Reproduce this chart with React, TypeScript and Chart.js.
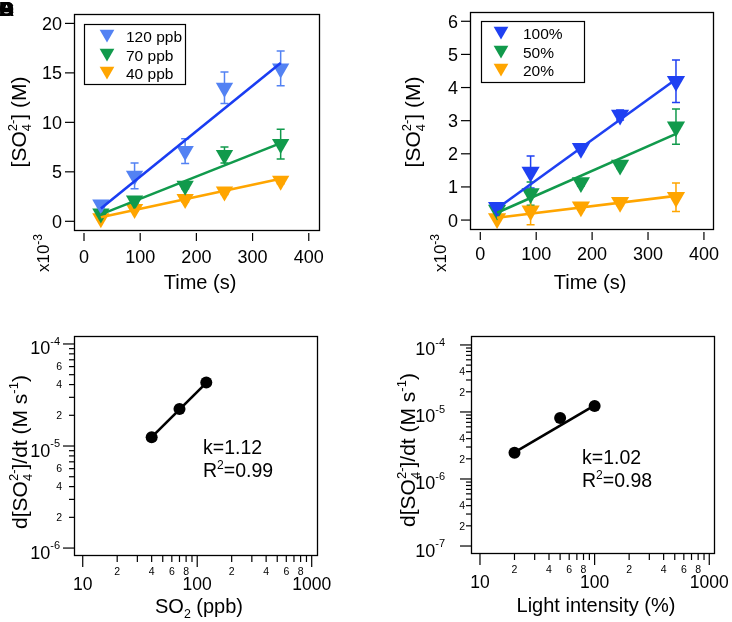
import { useEffect, useRef } from 'react';
import { Chart, registerables } from 'chart.js';
Chart.register(...registerables);

const FONT = '"Liberation Sans", Arial, Helvetica, sans-serif';

// ---------- Panel A: [SO4 2-] vs time at several SO2 levels (x10^-3 M) ----------
const timeS = [30, 90, 180, 250, 350];
const so2Labels = ['120 ppb', '70 ppb', '40 ppb'];
const so2_120 = [1.7, 4.6, 7.1, 13.5, 15.45];
const so2_120Err = [0.3, 1.3, 1.25, 1.6, 1.75];
const so2_70 = [0.8, 2.1, 3.6, 6.7, 7.8];
const so2_70Err = [0.3, 0.3, 0.3, 0.8, 1.5];
const so2_40 = [0.3, 1.25, 2.25, 3.0, 4.1];
const so2_40Err = [0.2, 0.2, 0.3, 0.3, 0.3];
const fitTime = [30, 350];
const so2_120Fit = [1.3, 16.0];
const so2_70Fit = [0.7, 7.9];
const so2_40Fit = [0.4, 4.3];
const timeTicks = [0, 100, 200, 300, 400];
const aYTicks = [0, 5, 10, 15, 20];

// ---------- Panel B: [SO4 2-] vs time at several light intensities (x10^-3 M) ----------
const lightLabels = ['100%', '50%', '20%'];
const light100 = [0.39, 1.45, 2.17, 3.17, 4.19];
const light100Err = [0.1, 0.48, 0.1, 0.15, 0.64];
const light50 = [0.3, 0.8, 1.13, 1.66, 2.82];
const light50Err = [0.1, 0.35, 0.1, 0.1, 0.53];
const light20 = [0.05, 0.28, 0.4, 0.54, 0.685];
const light20Err = [0.05, 0.42, 0.1, 0.1, 0.43];
const light100Fit = [0.35, 4.25];
const light50Fit = [0.22, 2.6];
const light20Fit = [0.07, 0.73];
const bYTicks = [0, 1, 2, 3, 4, 5, 6];

// ---------- Panel C: rate vs SO2 ----------
const so2Conc = [40, 70, 120];
const so2Rate = [1.22e-5, 2.3e-5, 4.2e-5];
const so2FitX = [40, 120];
const so2FitY = [1.22e-5, 4.15e-5];
const so2K = 'k=1.12';
const so2R2 = '=0.99';

// ---------- Panel D: rate vs light intensity ----------
const lightInt = [20, 50, 100];
const lightRate = [2.46e-6, 8.1e-6, 1.23e-5];
const lightFitX = [20, 100];
const lightFitY = [2.5e-6, 1.25e-5];
const lightK = 'k=1.02';
const lightR2 = '=0.98';

const logXMajors = [10, 100, 1000];
const logMinorMults = [2, 3, 4, 5, 6, 7, 8, 9];
const logXMinorLabels = [2, 4, 6, 8];
const cYExps = [-6, -5, -4];
const cYMinorLabels = [2, 4, 6];
const dYExps = [-7, -6, -5, -4];
const dYMinorLabels = [2, 4];

// colours
const A_BLUE = '#5382f3';
const A_BLUE_LINE = '#1a3df2';
const GREEN = '#119a4c';
const ORANGE = '#ffa500';
const B_BLUE = '#1f40f2';

const fnt = (s: number, bold = false) => `${bold ? 'bold ' : ''}${s}px ${FONT}`;

type Seg = { t?: string; sup?: string; sub?: string };

function drawRich(ctx: CanvasRenderingContext2D, segs: Seg[], cx: number, cy: number, size: number,
  opts: { rot?: number; align?: 'left' | 'center' | 'right'; small?: number } = {}) {
  const small = opts.small ?? size * 0.62;
  ctx.save();
  ctx.translate(cx, cy);
  if (opts.rot) ctx.rotate(opts.rot);
  ctx.textAlign = 'left';
  ctx.textBaseline = 'alphabetic';
  ctx.fillStyle = '#000';
  const widths = segs.map((s) => {
    if (s.t !== undefined) { ctx.font = fnt(size); return ctx.measureText(s.t).width; }
    ctx.font = fnt(small);
    return Math.max(s.sup ? ctx.measureText(s.sup).width : 0, s.sub ? ctx.measureText(s.sub).width : 0);
  });
  const total = widths.reduce((a, b) => a + b, 0);
  let x = opts.align === 'left' ? 0 : opts.align === 'right' ? -total : -total / 2;
  const base = size * 0.36;
  segs.forEach((s, i) => {
    if (s.t !== undefined) { ctx.font = fnt(size); ctx.fillText(s.t, x, base); }
    else {
      ctx.font = fnt(small);
      if (s.sup) ctx.fillText(s.sup, x, base - size * 0.42);
      if (s.sub) ctx.fillText(s.sub, x, base + size * 0.24);
    }
    x += widths[i];
  });
  ctx.restore();
}

function text(ctx: CanvasRenderingContext2D, s: string, x: number, cy: number, size: number, align: CanvasTextAlign) {
  ctx.font = fnt(size);
  ctx.textAlign = align;
  ctx.textBaseline = 'alphabetic';
  ctx.fillStyle = '#000';
  ctx.fillText(s, x, cy + size * 0.36);
}

function line(ctx: CanvasRenderingContext2D, x1: number, y1: number, x2: number, y2: number, w = 1.2) {
  ctx.lineWidth = w;
  ctx.strokeStyle = '#000';
  ctx.beginPath();
  ctx.moveTo(x1, y1);
  ctx.lineTo(x2, y2);
  ctx.stroke();
}

function frame(chart: any) {
  const { ctx, chartArea: a } = chart;
  ctx.save();
  ctx.lineWidth = 1.3;
  ctx.strokeStyle = '#000';
  ctx.strokeRect(a.left + 0.5, a.top + 0.5, a.right - a.left - 1, a.bottom - a.top - 1);
  ctx.restore();
}

function tri(ctx: CanvasRenderingContext2D, x: number, y: number, r: number, color: string) {
  const cy = y - r / 4;
  ctx.beginPath();
  ctx.moveTo(x, cy + r);
  ctx.lineTo(x - r * 0.866, cy - r / 2);
  ctx.lineTo(x + r * 0.866, cy - r / 2);
  ctx.closePath();
  ctx.fillStyle = color;
  ctx.fill();
}

function legend(ctx: CanvasRenderingContext2D, box: number[], rows: number[], mx: number, tx: number, r: number,
  labels: string[], colors: string[]) {
  ctx.save();
  ctx.lineWidth = 1.2;
  ctx.strokeStyle = '#000';
  ctx.strokeRect(box[0] + 0.5, box[1] + 0.5, box[2], box[3]);
  labels.forEach((l, i) => {
    tri(ctx, mx, rows[i], r, colors[i]);
    text(ctx, l, tx, rows[i], 15.5, 'left');
  });
  ctx.restore();
}

type Err = { x: number[]; y: number[]; e: number[]; color: string };
function errPlugin(errs: Err[]) {
  return {
    id: 'errbars',
    beforeDatasetsDraw(chart: any) {
      const { ctx, scales, chartArea: a } = chart;
      ctx.save();
      ctx.beginPath();
      ctx.rect(a.left, a.top, a.right - a.left, a.bottom - a.top);
      ctx.clip();
      ctx.lineWidth = 1.5;
      errs.forEach((s) => {
        ctx.strokeStyle = s.color;
        s.x.forEach((xv, i) => {
          const px = scales.x.getPixelForValue(xv);
          const top = scales.y.getPixelForValue(s.y[i] + s.e[i]);
          const bot = scales.y.getPixelForValue(s.y[i] - s.e[i]);
          ctx.beginPath();
          ctx.moveTo(px, top); ctx.lineTo(px, bot);
          ctx.moveTo(px - 4, top); ctx.lineTo(px + 4, top);
          ctx.moveTo(px - 4, bot); ctx.lineTo(px + 4, bot);
          ctx.stroke();
        });
      });
      ctx.restore();
    },
  };
}

function linAxes(chart: any, xTicks: number[], yTicks: number[], xLabelY: number) {
  const { ctx, scales, chartArea: a } = chart;
  ctx.save();
  yTicks.forEach((v) => {
    const py = scales.y.getPixelForValue(v);
    line(ctx, a.left - 9, py, a.left, py);
    text(ctx, String(v), a.left - 12, py, 18, 'right');
  });
  xTicks.forEach((v) => {
    const px = scales.x.getPixelForValue(v);
    line(ctx, px, a.bottom + 2, px, a.bottom + 10);
    text(ctx, String(v), px, xLabelY, 18, 'center');
  });
  ctx.restore();
}

function logAxes(chart: any, yExps: number[], yMinorLabels: number[], yMajorGap: number, yMinorGap: number) {
  const { ctx, scales, chartArea: a } = chart;
  ctx.save();
  // x axis
  logXMajors.forEach((d, di) => {
    const px = scales.x.getPixelForValue(d);
    line(ctx, px, a.bottom, px, a.bottom + 11);
    text(ctx, String(d), px, a.bottom + 28, 17.5, 'center');
    if (di < logXMajors.length - 1) {
      logMinorMults.forEach((m) => {
        const qx = scales.x.getPixelForValue(m * d);
        line(ctx, qx, a.bottom, qx, a.bottom + 6);
        if (logXMinorLabels.includes(m)) text(ctx, String(m), qx, a.bottom + 15, 10.5, 'center');
      });
    }
  });
  // y axis
  yExps.forEach((e, ei) => {
    const py = scales.y.getPixelForValue(Math.pow(10, e));
    line(ctx, a.left - 11, py, a.left, py);
    ctx.font = fnt(11);
    const sw = ctx.measureText(String(e)).width;
    const right = a.left - yMajorGap;
    ctx.fillStyle = '#000';
    ctx.textAlign = 'right';
    ctx.textBaseline = 'alphabetic';
    ctx.fillText(String(e), right, py + 1);
    ctx.font = fnt(18);
    ctx.fillText('10', right - sw, py + 4 + 6.5);
    if (ei < yExps.length - 1) {
      logMinorMults.forEach((m) => {
        const qy = scales.y.getPixelForValue(m * Math.pow(10, e));
        line(ctx, a.left - 5, qy, a.left, qy);
        if (yMinorLabels.includes(m)) text(ctx, String(m), a.left - yMinorGap, qy, 10.5, 'right');
      });
    }
  });
  ctx.restore();
}

const pts = (xs: number[], ys: number[]) => xs.map((x, i) => ({ x, y: ys[i] }));

function markerDs(label: string, xs: number[], ys: number[], color: string, r: number) {
  return {
    label, data: pts(xs, ys), pointStyle: 'triangle', rotation: 180, pointRadius: r, pointHoverRadius: r,
    backgroundColor: color, borderColor: color, borderWidth: 0, showLine: false, order: 1,
  };
}
function lineDs(xs: number[], ys: number[], color: string, w = 2.6) {
  return {
    label: 'fit', data: pts(xs, ys), borderColor: color, backgroundColor: color, borderWidth: w,
    pointRadius: 0, pointHoverRadius: 0, showLine: true, fill: false, order: 0,
  };
}
function circleDs(xs: number[], ys: number[]) {
  return {
    label: 'rate', data: pts(xs, ys), pointStyle: 'circle', pointRadius: 6, pointHoverRadius: 6,
    backgroundColor: '#000', borderColor: '#000', borderWidth: 0, showLine: false, order: 1,
  };
}

function makeChart(canvas: HTMLCanvasElement, datasets: any[], padding: any, x: any, y: any, plugins: any[]) {
  return new Chart(canvas, {
    type: 'scatter',
    data: { datasets },
    options: {
      responsive: false,
      maintainAspectRatio: false,
      animation: false,
      events: [],
      layout: { padding },
      scales: { x: { ...x, display: false }, y: { ...y, display: false } },
      plugins: { legend: { display: false }, tooltip: { enabled: false } },
    } as any,
    plugins,
  });
}

const ySO4: Seg[] = [{ t: '[SO' }, { sub: '4', sup: '2-' }, { t: '] (M)' }];
const x10: Seg[] = [{ t: 'x10' }, { sup: '-3' }];
const rateTitle: Seg[] = [{ t: 'd[SO' }, { sub: '4', sup: '2-' }, { t: ']/dt (M s' }, { sup: '-1' }, { t: ')' }];
const R = -Math.PI / 2;

function buildA(c: HTMLCanvasElement) {
  const decor = {
    id: 'decorA',
    afterDraw(chart: any) {
      const ctx = chart.ctx;
      frame(chart);
      linAxes(chart, timeTicks, aYTicks, 257);
      drawRich(ctx, ySO4, 18, 122, 21, { rot: R });
      drawRich(ctx, x10, 43, 253, 17, { rot: R, small: 12 });
      drawRich(ctx, [{ t: 'Time (s)' }], 200, 282, 20);
      legend(ctx, [84, 24, 101, 60], [36, 55, 73], 107, 126, 8.5, so2Labels, [A_BLUE, GREEN, ORANGE]);
      ctx.save();
      ctx.fillStyle = '#000';
      ctx.font = fnt(21, true);
      ctx.textAlign = 'left';
      ctx.textBaseline = 'alphabetic';
      ['A', 'B', 'C', 'D'].forEach((l) => ctx.fillText(l, -1, 16));
      ctx.restore();
    },
  };
  return makeChart(c, [
    lineDs(fitTime, so2_120Fit, A_BLUE_LINE),
    lineDs(fitTime, so2_70Fit, GREEN),
    lineDs(fitTime, so2_40Fit, ORANGE),
    markerDs(so2Labels[0], timeS, so2_120, A_BLUE, 10),
    markerDs(so2Labels[1], timeS, so2_70, GREEN, 10),
    markerDs(so2Labels[2], timeS, so2_40, ORANGE, 10),
  ], { left: 74, top: 14, right: 46, bottom: 69 },
  { type: 'linear', min: -17.8, max: 420 }, { type: 'linear', min: -0.98, max: 20.95 },
  [errPlugin([
    { x: timeS, y: so2_120, e: so2_120Err, color: A_BLUE },
    { x: timeS, y: so2_70, e: so2_70Err, color: GREEN },
    { x: timeS, y: so2_40, e: so2_40Err, color: ORANGE },
  ]), decor]);
}

function buildB(c: HTMLCanvasElement) {
  const decor = {
    id: 'decorB',
    afterDraw(chart: any) {
      const ctx = chart.ctx;
      frame(chart);
      linAxes(chart, timeTicks, bYTicks, 254);
      drawRich(ctx, ySO4, 46, 122, 21, { rot: R });
      drawRich(ctx, x10, 74, 253, 17, { rot: R, small: 12 });
      drawRich(ctx, [{ t: 'Time (s)' }], 224, 282, 20);
      legend(ctx, [115, 21, 103, 61], [33, 52, 70], 135, 157, 8.5, lightLabels, [B_BLUE, GREEN, ORANGE]);
    },
  };
  return makeChart(c, [
    lineDs(fitTime, light100Fit, B_BLUE),
    lineDs(fitTime, light50Fit, GREEN),
    lineDs(fitTime, light20Fit, ORANGE),
    markerDs(lightLabels[0], timeS, light100, B_BLUE, 10.5),
    markerDs(lightLabels[1], timeS, light50, GREEN, 10.5),
    markerDs(lightLabels[2], timeS, light20, ORANGE, 10.5),
  ], { left: 104, top: 12, right: 18, bottom: 70 },
  { type: 'linear', min: -18.4, max: 418 }, { type: 'linear', min: -0.3, max: 6.28 },
  [errPlugin([
    { x: timeS, y: light100, e: light100Err, color: B_BLUE },
    { x: timeS, y: light50, e: light50Err, color: GREEN },
    { x: timeS, y: light20, e: light20Err, color: ORANGE },
  ]), decor]);
}

function buildC(c: HTMLCanvasElement) {
  const decor = {
    id: 'decorC',
    afterDraw(chart: any) {
      const ctx = chart.ctx;
      frame(chart);
      logAxes(chart, cYExps, cYMinorLabels, 14, 12);
      drawRich(ctx, rateTitle, 19, 152, 21, { rot: R });
      drawRich(ctx, [{ t: 'SO' }, { sub: '2' }, { t: ' (ppb)' }], 199, 306, 20);
      drawRich(ctx, [{ t: so2K }], 203, 147, 19.5, { align: 'left' });
      drawRich(ctx, [{ t: 'R' }, { sup: '2' }, { t: so2R2 }], 203, 170, 19.5, { align: 'left' });
    },
  };
  return makeChart(c, [lineDs(so2FitX, so2FitY, '#000'), circleDs(so2Conc, so2Rate)],
    { left: 74, top: 36, right: 48, bottom: 66 },
    { type: 'logarithmic', min: 8.39, max: 1135 }, { type: 'logarithmic', min: 8.36e-7, max: 1.197e-4 },
    [decor]);
}

function buildD(c: HTMLCanvasElement) {
  const decor = {
    id: 'decorD',
    afterDraw(chart: any) {
      const ctx = chart.ctx;
      frame(chart);
      logAxes(chart, dYExps, dYMinorLabels, 26, 6);
      drawRich(ctx, rateTitle, 41, 150, 21, { rot: R });
      drawRich(ctx, [{ t: 'Light intensity (%)' }], 230, 305, 20);
      drawRich(ctx, [{ t: lightK }], 216, 157, 19.5, { align: 'left' });
      drawRich(ctx, [{ t: 'R' }, { sup: '2' }, { t: lightR2 }], 216, 180, 19.5, { align: 'left' });
    },
  };
  return makeChart(c, [lineDs(lightFitX, lightFitY, '#000'), circleDs(lightInt, lightRate)],
    { left: 105, top: 36, right: 17, bottom: 68 },
    { type: 'logarithmic', min: 8.35, max: 1122 }, { type: 'logarithmic', min: 7.6e-8, max: 1.36e-4 },
    [decor]);
}

export default function App() {
  const ra = useRef<HTMLCanvasElement>(null);
  const rb = useRef<HTMLCanvasElement>(null);
  const rc = useRef<HTMLCanvasElement>(null);
  const rd = useRef<HTMLCanvasElement>(null);
  useEffect(() => {
    const charts = [buildA(ra.current!), buildB(rb.current!), buildC(rc.current!), buildD(rd.current!)];
    return () => charts.forEach((ch) => ch.destroy());
  }, []);
  const st = (left: number, top: number) => ({ position: 'absolute' as const, left, top, display: 'block' });
  return (
    <div style={{ position: 'fixed', left: 0, top: 0, width: 732, height: 622, background: '#fff', overflow: 'hidden' }}>
      <canvas ref={ra} width={366} height={300} style={st(0, 0)} />
      <canvas ref={rb} width={366} height={300} style={st(366, 0)} />
      <canvas ref={rc} width={366} height={322} style={st(0, 300)} />
      <canvas ref={rd} width={366} height={322} style={st(366, 300)} />
    </div>
  );
}
